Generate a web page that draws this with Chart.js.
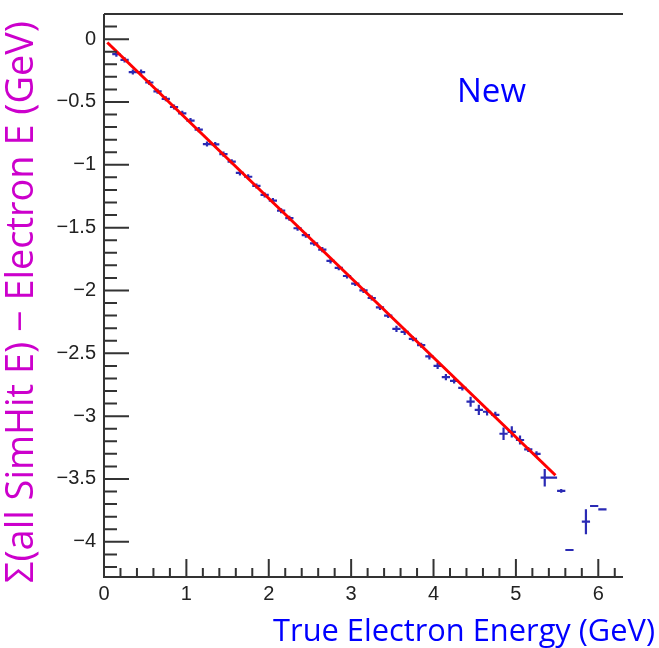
<!DOCTYPE html>
<html>
<head>
<meta charset="utf-8">
<script src="https://cdn.jsdelivr.net/npm/chart.js@4/dist/chart.umd.min.js"></script>
<style>
  html, body { margin: 0; padding: 0; background: #fff; }
  canvas { display: block; }
</style>
</head>
<body>
<canvas id="c" width="659" height="648"></canvas>
<script>
// profile bins (centre of each 0.1 GeV bin), mean and error on the mean
const binCenters = [0.15, 0.25, 0.35, 0.45, 0.55, 0.65, 0.75, 0.85, 0.95, 1.05,
  1.15, 1.25, 1.35, 1.45, 1.55, 1.65, 1.75, 1.85, 1.95, 2.05,
  2.15, 2.25, 2.35, 2.45, 2.55, 2.65, 2.75, 2.85, 2.95, 3.05,
  3.15, 3.25, 3.35, 3.45, 3.55, 3.65, 3.75, 3.85, 3.95, 4.05,
  4.15, 4.25, 4.35, 4.45, 4.55, 4.65, 4.75, 4.85, 4.95, 5.05,
  5.15, 5.25, 5.35, 5.45, 5.55, 5.65, 5.85, 5.95, 6.05];
const meanDiff = [-0.12, -0.165, -0.262, -0.262, -0.345, -0.415, -0.475, -0.54, -0.59, -0.648,
  -0.72, -0.835, -0.838, -0.915, -0.975, -1.065, -1.095, -1.168, -1.24, -1.285,
  -1.365, -1.425, -1.505, -1.56, -1.625, -1.675, -1.765, -1.82, -1.885, -1.945,
  -2.0, -2.06, -2.135, -2.2, -2.305, -2.33, -2.385, -2.435, -2.525, -2.6,
  -2.69, -2.72, -2.775, -2.885, -2.95, -2.965, -2.99, -3.14, -3.125, -3.19,
  -3.265, -3.3, -3.49, -3.49, -3.595, -4.065, -3.84, -3.715, -3.742];
const meanErr = [0.02, 0.02, 0.02, 0.02, 0.02, 0.02, 0.02, 0.02, 0.02, 0.02,
  0.02, 0.02, 0.02, 0.02, 0.02, 0.02, 0.02, 0.02, 0.02, 0.02,
  0.02, 0.02, 0.02, 0.02, 0.02, 0.02, 0.02, 0.02, 0.02, 0.02,
  0.02, 0.02, 0.02, 0.02, 0.025, 0.025, 0.02, 0.02, 0.025, 0.025,
  0.025, 0.02, 0.02, 0.04, 0.04, 0.03, 0.025, 0.05, 0.045, 0.035,
  0.02, 0.02, 0.07, 0, 0.015, 0, 0.1, 0, 0];
const binHalfWidth = 0.05;

// straight-line fit drawn over the fit range
const fitX = [0.04, 5.48];
const fitY = [-0.027, -3.47];

const xTicks = [0, 1, 2, 3, 4, 5, 6];
const yTicks = [0, -0.5, -1, -1.5, -2, -2.5, -3, -3.5, -4];

const AXIS = '#333';
const MARK = '#2a2ab4';
const TITLE_FONT = '"Open Sans", "Noto Sans", sans-serif';

// set the font so a title fills the width it has in the original
function fitFont(ctx, text, width) {
  ctx.font = '20px ' + TITLE_FONT;
  const size = 20 * width / ctx.measureText(text).width;
  ctx.font = size.toFixed(1) + 'px ' + TITLE_FONT;
}

function noPad(s) {
  s.paddingLeft = 0; s.paddingRight = 0; s.paddingTop = 0; s.paddingBottom = 0;
}

const profilePlugin = {
  id: 'profile',
  beforeDatasetsDraw(chart) {
    const ctx = chart.ctx, xs = chart.scales.x, ys = chart.scales.y;
    ctx.save();
    ctx.strokeStyle = MARK;
    ctx.lineWidth = 2.2;
    ctx.beginPath();
    binCenters.forEach((x, i) => {
      const y = meanDiff[i], e = meanErr[i];
      const py = ys.getPixelForValue(y);
      ctx.moveTo(xs.getPixelForValue(x - binHalfWidth), py);
      ctx.lineTo(xs.getPixelForValue(x + binHalfWidth), py);
      if (e > 0) {
        const px = xs.getPixelForValue(x);
        ctx.moveTo(px, ys.getPixelForValue(y + e));
        ctx.lineTo(px, ys.getPixelForValue(y - e));
      }
    });
    ctx.stroke();
    ctx.restore();
  },
  afterDraw(chart) {
    const ctx = chart.ctx, xs = chart.scales.x, ys = chart.scales.y;
    const a = chart.chartArea;
    ctx.save();
    ctx.strokeStyle = AXIS;
    ctx.lineWidth = 2;
    ctx.beginPath();
    // frame: left, bottom, top
    ctx.moveTo(a.left, a.top); ctx.lineTo(a.left, a.bottom); ctx.lineTo(a.right, a.bottom);
    ctx.moveTo(a.left, a.top); ctx.lineTo(a.right, a.top);
    // x ticks every 0.2, major at integers
    for (let i = 0; i <= 31; i++) {
      const px = xs.getPixelForValue(i * 0.2);
      const len = i % 5 === 0 ? 18 : 9;
      ctx.moveTo(px, a.bottom); ctx.lineTo(px, a.bottom - len);
    }
    // y ticks every 0.1, major every 0.5
    for (let i = -42; i <= 2; i++) {
      const py = ys.getPixelForValue(i * 0.1);
      const len = i % 5 === 0 ? 25 : 13;
      ctx.moveTo(a.left, py); ctx.lineTo(a.left + len, py);
    }
    ctx.stroke();

    // axis titles and label
    const xTitle = 'True Electron Energy (GeV)';
    ctx.fillStyle = '#0000ff';
    fitFont(ctx, xTitle, 382);
    ctx.textAlign = 'right';
    ctx.textBaseline = 'alphabetic';
    ctx.fillText(xTitle, 655, 641);

    ctx.font = '33px ' + TITLE_FONT;
    ctx.textAlign = 'left';
    ctx.fillText('New', 457, 102);

    const yTitle = '\u03A3(all SimHit E) \u2212 Electron E (GeV)';
    ctx.fillStyle = '#cc00cc';
    fitFont(ctx, yTitle, 562);
    ctx.translate(22, 302);
    ctx.rotate(-Math.PI / 2);
    ctx.textAlign = 'center';
    ctx.textBaseline = 'middle';
    ctx.fillText(yTitle, 0, 0);
    ctx.restore();
  }
};

new Chart(document.getElementById('c'), {
  type: 'scatter',
  data: {
    datasets: [
      {
        label: 'profile',
        data: binCenters.map((x, i) => ({ x: x, y: meanDiff[i] })),
        pointRadius: 0,
        showLine: false
      },
      {
        label: 'fit',
        type: 'line',
        data: fitX.map((x, i) => ({ x: x, y: fitY[i] })),
        borderColor: '#ff0000',
        borderWidth: 3,
        pointRadius: 0,
        fill: false
      }
    ]
  },
  options: {
    responsive: false,
    animation: false,
    devicePixelRatio: 1,
    layout: { padding: { left: 0, top: 14, right: 36, bottom: 0 } },
    plugins: { legend: { display: false }, tooltip: { enabled: false } },
    scales: {
      x: {
        type: 'linear',
        min: 0,
        max: 6.3,
        afterFit(s) { s.height = 71; noPad(s); },
        afterBuildTicks(s) { s.ticks = xTicks.map(v => ({ value: v })); },
        grid: { display: false, drawTicks: false },
        border: { display: false },
        ticks: {
          padding: 5,
          color: '#222',
          font: { family: '"Liberation Sans", Arial, sans-serif', size: 20 },
          maxRotation: 0
        }
      },
      y: {
        type: 'linear',
        min: -4.28,
        max: 0.2,
        afterFit(s) { s.width = 104; noPad(s); },
        afterBuildTicks(s) { s.ticks = yTicks.map(v => ({ value: v })); },
        grid: { display: false, drawTicks: false },
        border: { display: false },
        ticks: {
          padding: 8,
          color: '#222',
          font: { family: '"Liberation Sans", Arial, sans-serif', size: 20 },
          callback: v => v === 0 ? '0' : '\u2212' + Math.abs(v)
        }
      }
    }
  },
  plugins: [profilePlugin]
});
</script>
</body>
</html>
